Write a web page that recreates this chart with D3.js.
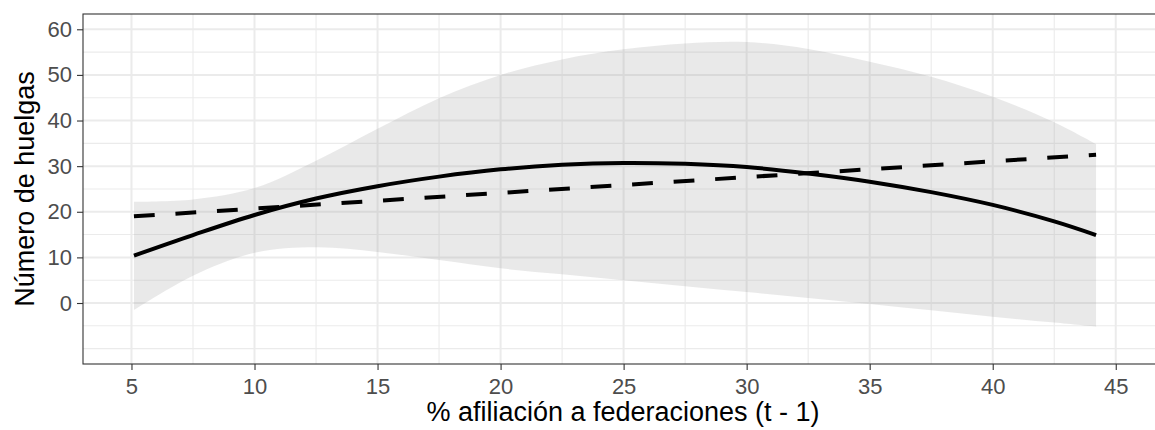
<!DOCTYPE html>
<html>
<head>
<meta charset="utf-8">
<script src="https://cdn.jsdelivr.net/npm/d3@7"></script>
<style>
  html, body { margin: 0; padding: 0; background: #fff; }
  svg { display: block; }
  text { font-family: "Liberation Sans", Arial, Helvetica, sans-serif; }
</style>
</head>
<body>
<svg id="chart" width="1155" height="430"></svg>
<script>
// Fitted values of strikes against federation membership share (lagged)
const xFit = [5.1, 7.5, 10, 12.5, 15, 17.5, 20, 22.5, 25, 27.5, 30, 32.5, 35, 37.5, 40, 42.5, 44.2];
const quadFit = [10.4, 14.9, 19.3, 22.9, 25.6, 27.7, 29.3, 30.3, 30.7, 30.5, 29.8, 28.4, 26.6, 24.3, 21.5, 17.9, 14.9];
const ciUpper = [22.2, 22.7, 25.2, 31.2, 38.2, 44.9, 50.0, 53.4, 55.6, 56.9, 57.2, 55.7, 52.9, 49.6, 45.2, 39.6, 34.8];
const ciLower = [-1.5, 6.0, 11.0, 12.2, 11.2, 9.4, 7.6, 6.3, 5.0, 3.7, 2.4, 1.1, -0.2, -1.6, -3.0, -4.3, -5.2];

// Linear fit
const xLin = [5.1, 44.2];
const linFit = [19.0, 32.5];

// Axis breaks
const xTicks = [5, 10, 15, 20, 25, 30, 35, 40, 45];
const xMinor = [7.5, 12.5, 17.5, 22.5, 27.5, 32.5, 37.5, 42.5];
const yTicks = [0, 10, 20, 30, 40, 50, 60];
const yMinor = [-10, -5, 5, 15, 25, 35, 45, 55];

const xTitle = "% afiliación a federaciones (t - 1)";
const yTitle = "Número de huelgas";

const svg = d3.select("#chart");
const panel = { left: 83, top: 14, right: 1163, bottom: 364 };

const x = d3.scaleLinear().domain([3.03, 46.92]).range([panel.left, panel.right]);
const y = d3.scaleLinear().domain([-13.37, 63.35]).range([panel.bottom, panel.top]);

svg.append("defs").append("clipPath").attr("id", "panel-clip")
  .append("rect")
  .attr("x", panel.left).attr("y", panel.top)
  .attr("width", panel.right - panel.left).attr("height", panel.bottom - panel.top);

const plot = svg.append("g").attr("clip-path", "url(#panel-clip)");
const smooth = d3.curveCatmullRom.alpha(0.5);

// Grid
const grid = plot.append("g");
grid.selectAll(".ymin").data(yMinor).join("line")
  .attr("x1", panel.left).attr("x2", panel.right)
  .attr("y1", d => y(d)).attr("y2", d => y(d))
  .attr("stroke", "#ebebeb").attr("stroke-width", 1.1);
grid.selectAll(".xmin").data(xMinor).join("line")
  .attr("y1", panel.top).attr("y2", panel.bottom)
  .attr("x1", d => x(d)).attr("x2", d => x(d))
  .attr("stroke", "#ebebeb").attr("stroke-width", 1.1);
grid.selectAll(".ymaj").data(yTicks).join("line")
  .attr("x1", panel.left).attr("x2", panel.right)
  .attr("y1", d => y(d)).attr("y2", d => y(d))
  .attr("stroke", "#ebebeb").attr("stroke-width", 2);
grid.selectAll(".xmaj").data(xTicks).join("line")
  .attr("y1", panel.top).attr("y2", panel.bottom)
  .attr("x1", d => x(d)).attr("x2", d => x(d))
  .attr("stroke", "#ebebeb").attr("stroke-width", 2);

// Confidence band
const band = xFit.map((v, i) => ({ x: v, lo: ciLower[i], hi: ciUpper[i] }));
plot.append("path")
  .datum(band)
  .attr("d", d3.area().curve(smooth)
    .x(d => x(d.x)).y0(d => y(d.lo)).y1(d => y(d.hi)))
  .attr("fill", "#999999").attr("fill-opacity", 0.22);

// Quadratic fit (solid)
plot.append("path")
  .datum(xFit.map((v, i) => [v, quadFit[i]]))
  .attr("d", d3.line().curve(smooth).x(d => x(d[0])).y(d => y(d[1])))
  .attr("fill", "none").attr("stroke", "#000").attr("stroke-width", 4);

// Linear fit (dashed)
plot.append("path")
  .datum(xLin.map((v, i) => [v, linFit[i]]))
  .attr("d", d3.line().x(d => x(d[0])).y(d => y(d[1])))
  .attr("fill", "none").attr("stroke", "#000").attr("stroke-width", 4)
  .attr("stroke-dasharray", "20.8,20.8");

// Panel border
svg.append("rect")
  .attr("x", panel.left).attr("y", panel.top)
  .attr("width", panel.right - panel.left).attr("height", panel.bottom - panel.top)
  .attr("fill", "none").attr("stroke", "#333333").attr("stroke-width", 1.1);

// Axes
const xAxis = svg.append("g")
  .attr("transform", `translate(0,${panel.bottom})`)
  .call(d3.axisBottom(x).tickValues(xTicks).tickSize(6).tickPadding(5).tickFormat(d3.format("d")));
const yAxis = svg.append("g")
  .attr("transform", `translate(${panel.left},0)`)
  .call(d3.axisLeft(y).tickValues(yTicks).tickSize(6).tickPadding(5).tickFormat(d3.format("d")));

[xAxis, yAxis].forEach(a => {
  a.select(".domain").remove();
  a.selectAll(".tick line").attr("stroke", "#333333").attr("stroke-width", 1.1);
  a.selectAll(".tick text").attr("fill", "#4d4d4d").style("font-size", "22px");
});
xAxis.selectAll(".tick text").attr("dy", "0.85em");

// Axis titles
svg.append("text")
  .attr("x", (panel.left + panel.right) / 2).attr("y", 421)
  .attr("text-anchor", "middle").attr("fill", "#000")
  .style("font-size", "27px")
  .text(xTitle);

svg.append("text")
  .attr("transform", `translate(34,${(panel.top + panel.bottom) / 2}) rotate(-90)`)
  .attr("text-anchor", "middle").attr("fill", "#000")
  .style("font-size", "27px")
  .text(yTitle);
</script>
</body>
</html>
